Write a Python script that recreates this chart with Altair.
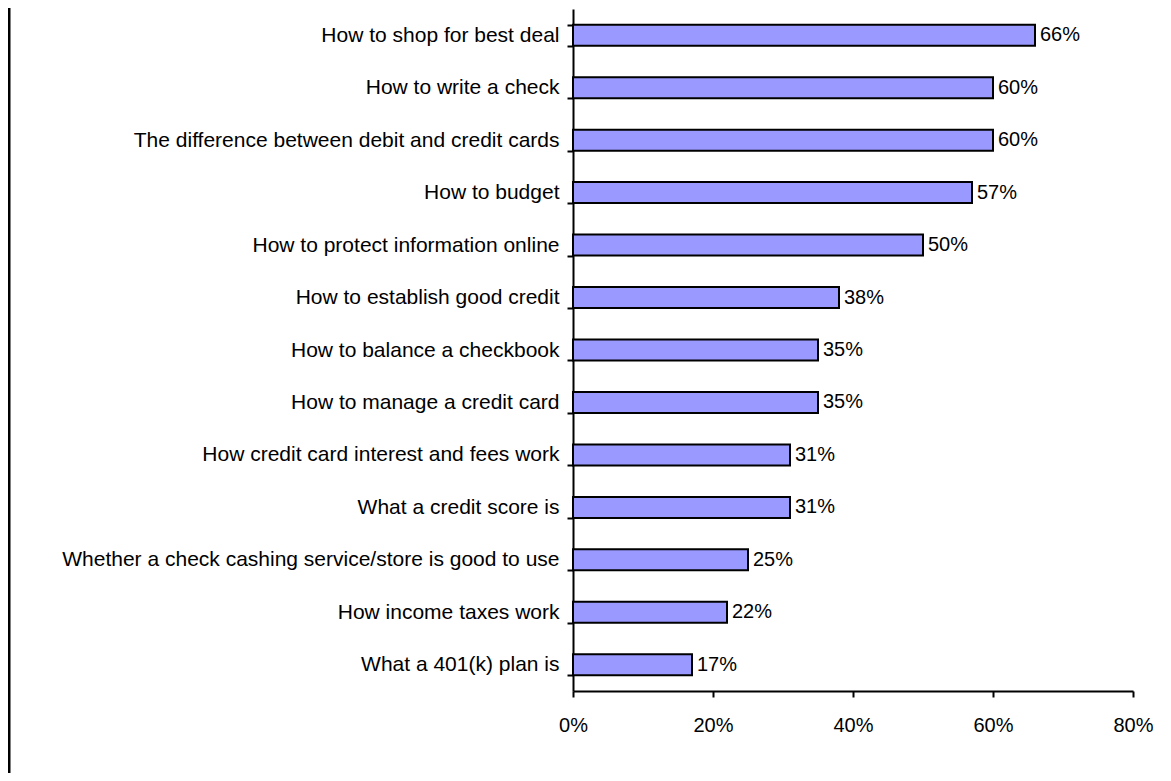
import altair as alt
import pandas as pd

topics = [
    "How to shop for best deal",
    "How to write a check",
    "The difference between debit and credit cards",
    "How to budget",
    "How to protect information online",
    "How to establish good credit",
    "How to balance a checkbook",
    "How to manage a credit card",
    "How credit card interest and fees work",
    "What a credit score is",
    "Whether a check cashing service/store is good to use",
    "How income taxes work",
    "What a 401(k) plan is",
]
shares = [0.66, 0.60, 0.60, 0.57, 0.50, 0.38, 0.35, 0.35, 0.31, 0.31, 0.25, 0.22, 0.17]
x_ticks = [0, 0.2, 0.4, 0.6, 0.8]

df = pd.DataFrame({"topic": topics, "share": shares})

FONT = "Liberation Sans"
FS = 21

y_enc = alt.Y(
    "topic:N",
    sort=topics,
    scale=alt.Scale(paddingInner=0.6, paddingOuter=0.3),
    axis=alt.Axis(
        title=None,
        tickBand="extent",
        tickSize=6,
        tickWidth=2,
        tickColor="black",
        domainColor="black",
        domainWidth=2,
        labelFont=FONT,
        labelFontSize=FS,
        labelColor="black",
        labelPadding=8,
        labelLimit=600,
    ),
)
x_enc = alt.X(
    "share:Q",
    scale=alt.Scale(domain=[0, 0.8], nice=False),
    axis=alt.Axis(
        title=None,
        values=x_ticks,
        format=".0%",
        grid=False,
        tickSize=6,
        tickWidth=2,
        tickColor="black",
        domainColor="black",
        domainWidth=2,
        labelFont=FONT,
        labelFontSize=20,
        labelColor="black",
        labelPadding=18,
        labelFlush=False,
    ),
)

base = alt.Chart(df)

bars = base.mark_bar(fill="#9999FF", stroke="black", strokeWidth=2).encode(
    x=x_enc, y=y_enc
)
labels = base.mark_text(
    align="left", baseline="middle", dx=5, font=FONT, fontSize=20, color="black"
).encode(x="share:Q", y=alt.Y("topic:N", sort=topics), text=alt.Text("share:Q", format=".0%"))

border = alt.Chart(pd.DataFrame({"k": [0]})).mark_rule(color="black", strokeWidth=3).encode(
    x=alt.value(-564), y=alt.value(-10), y2=alt.value(800)
)

chart = (
    alt.layer(bars, labels, border)
    .properties(
        width=560,
        height=682,
        autosize=alt.AutoSizeParams(type="none"),
        padding={"left": 565, "top": 1, "right": 30, "bottom": 82},
    )
    .configure_view(stroke=None)
)

chart.save("out.html", embed_options={"renderer": "svg", "actions": False})
